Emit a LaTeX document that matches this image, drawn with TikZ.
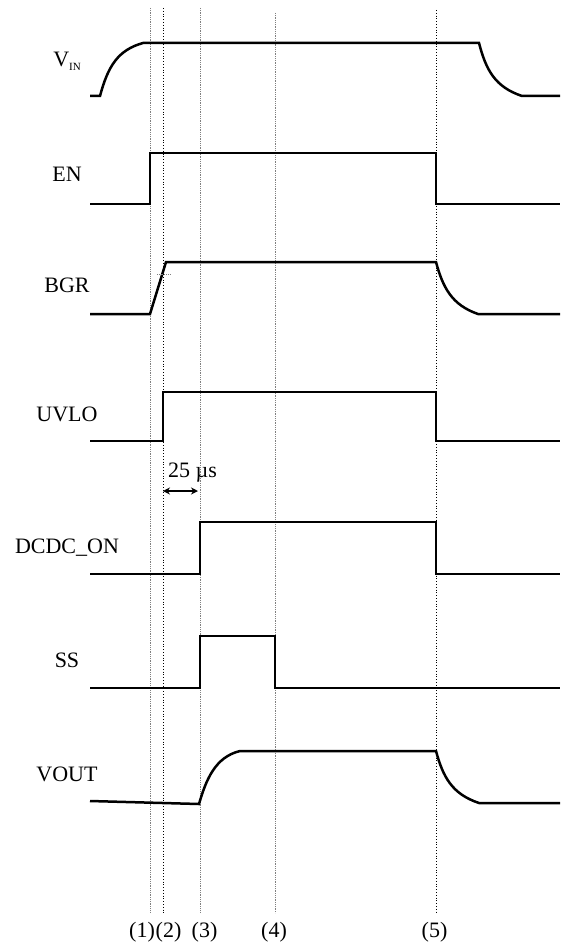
\documentclass[tikz,border=0pt]{standalone}
\usepackage{fontspec}
\setmainfont{Liberation Serif}
\usetikzlibrary{arrows.meta}
\tikzset{
  sig/.style={line width=2.5pt, line join=miter},
  markg/.style={gray, line width=0.8pt, densely dotted},
  markb/.style={black, line width=0.8pt, dotted},
  lbl/.style={font=\fontsize{22}{26}\selectfont, inner sep=0pt, anchor=base},
}
\begin{document}
\begin{tikzpicture}[x=1pt,y=-1pt,declare function={ta=150;tb=163;tc=200;td=275;te=436;}]
        \useasboundingbox (0,0) rectangle (560,944);
        % time marks
        \coordinate (A) at (ta,8);
        \coordinate (B) at (tb,8);
        \coordinate (C) at (tc,8);
        \coordinate (D) at (td,13);
        \coordinate (E) at (te,10);
        \draw[markg] (A) -- (ta,913);
        \draw[markb] (B) -- (tb,913);
        \draw[markg] (C) -- (tc,913);
        \draw[markg] (D) -- (td,913);
        \draw[markb] (E) -- (te,913);
        % signal names
        \node[lbl] (vin) at (67,67) {V\raisebox{-4pt}{\fontsize{11}{12}\selectfont IN}};
        \node[lbl] (en) at (67,182) {EN};
        \node[lbl] (bgr) at (67,292) {BGR};
        \node[lbl] (uvlo) at (67,421) {UVLO};
        \node[lbl] (dcdc) at (67,553) {DCDC\_ON};
        \node[lbl] (ss) at (67,667) {SS};
        \node[lbl] (vout) at (67,781) {VOUT};
        % waveforms
        \draw[sig] (90,96) -- (100,96) .. controls (108,66) and (118,50) .. (143,43) -- (479,43)
                   .. controls (486,70) and (495,87) .. (522,96) -- (560,96);
        \draw[sig] (90,204) -- (ta,204) -- (ta,153) -- (te,153) -- (te,204) -- (560,204);
        \draw[sig] (90,314) -- (ta,314) -- (166,262) -- (te,262)
                   .. controls (443,288) and (452,305) .. (478,314) -- (560,314);
        \draw[markg] (157,274) -- (171,274);
        \draw[sig] (90,441) -- (tb,441) -- (tb,392) -- (te,392) -- (te,441) -- (560,441);
        \draw[sig] (90,574) -- (tc,574) -- (tc,522) -- (te,522) -- (te,574) -- (560,574);
        \draw[sig] (90,688) -- (tc,688) -- (tc,636) -- (td,636) -- (td,688) -- (560,688);
        \draw[sig] (90,801) -- (199,804) .. controls (206,780) and (215,757) .. (240,751) -- (te,751)
                   .. controls (443,777) and (452,794) .. (479,803) -- (560,803);
        % delay
        \coordinate (dl) at (tb,491);
        \coordinate (dr) at (198,491);
        \draw[{Stealth[length=7pt,width=7pt]}-{Stealth[length=7pt,width=7pt]},line width=1.6pt] (dl) -- (dr);
        \node[lbl,anchor=base west] (delay) at (168,477) {25 µs};
        % time labels
        \node[lbl] (n1) at (142,937) {(1)};
        \node[lbl] (n2) at (168.5,937) {(2)};
        \node[lbl] (n3) at (204.5,937) {(3)};
        \node[lbl] (n4) at (274,937) {(4)};
        \node[lbl] (n5) at (434.5,937) {(5)};
\end{tikzpicture}
\end{document}
